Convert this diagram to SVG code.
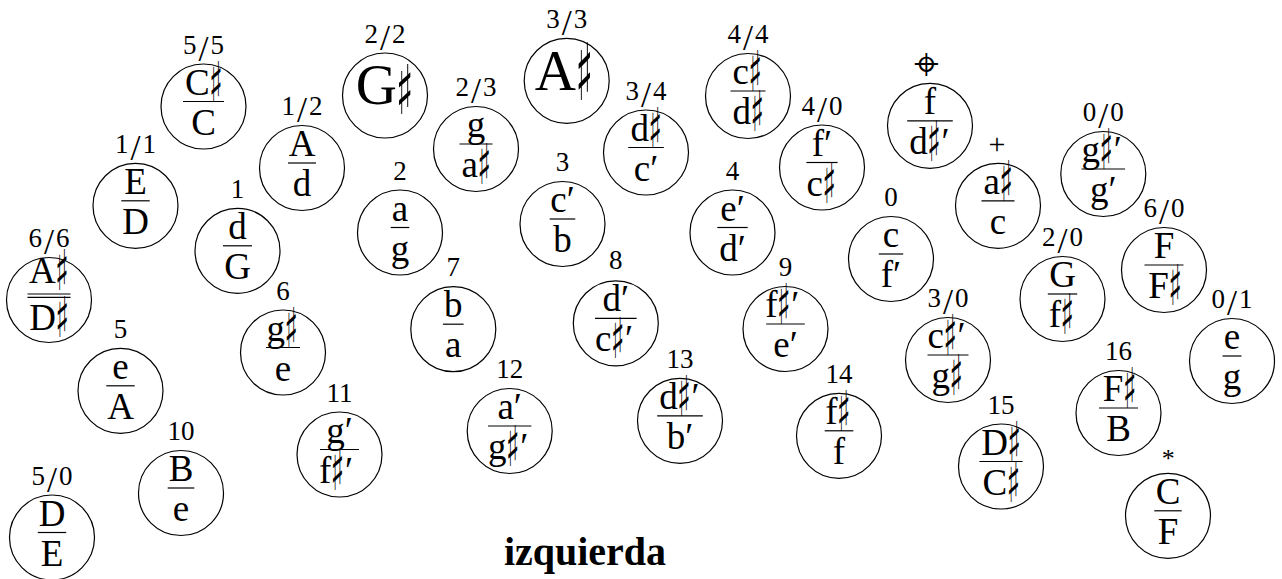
<svg xmlns="http://www.w3.org/2000/svg" width="1282" height="579" viewBox="0 0 1282 579">
<style>
.c{fill:none;stroke:#000;stroke-width:1.2}
.b{stroke:#000;stroke-width:1.2}
text{font-family:"Liberation Serif","DejaVu Serif",serif;fill:#000;text-anchor:middle}
.t{font-size:37px}
.e{text-anchor:end}
.st{text-anchor:start}
.big{font-size:57px}
.l{font-size:27px}
.ls{letter-spacing:2px}
.sl{font-size:36px}
.sh{font-family:"DejaVu Sans",sans-serif;font-size:28px;text-anchor:start}
.shb{font-family:"DejaVu Sans",sans-serif;font-size:36px;text-anchor:start}
.sym{font-family:"DejaVu Sans",sans-serif;font-size:44px}
.ttl{font-size:40px;font-weight:bold}
</style>
<rect width="1282" height="579" fill="#fff"/>
<g id="connectors"/>
<g id="n-5-5"><circle class="c" cx="203.5" cy="106.5" r="42.5"/><text class="l ls" x="204.5" y="53.5">5<tspan class="sl" dy="7">/</tspan><tspan dy="-7">5</tspan></text><text class="t e" x="209.7" y="94.5">C</text><text class="sh" transform="translate(209.2,101.5) scale(1,2)">♯</text><line class="b" x1="183" y1="101.5" x2="224" y2="101.5"/><text class="t" x="203.5" y="134.5">C</text></g>
<g id="n-2-2"><circle class="c" cx="385" cy="95.5" r="42.5"/><text class="l ls" x="386" y="42.5">2<tspan class="sl" dy="7">/</tspan><tspan dy="-7">2</tspan></text><text class="big e" x="397" y="103.5">G</text><text class="shb" transform="translate(396,113.5) scale(1,1.9)">♯</text></g>
<g id="n-1-2"><circle class="c" cx="302" cy="168" r="42.5"/><text class="l ls" x="303" y="115">1<tspan class="sl" dy="7">/</tspan><tspan dy="-7">2</tspan></text><text class="t" x="302" y="156">A</text><line class="b" x1="288" y1="163" x2="316" y2="163"/><text class="t" x="302" y="196">d</text></g>
<g id="n-1-1"><circle class="c" cx="135.5" cy="205.8" r="42.5"/><text class="l ls" x="136.5" y="152.8">1<tspan class="sl" dy="7">/</tspan><tspan dy="-7">1</tspan></text><text class="t" x="135.5" y="193.8">E</text><line class="b" x1="121.3" y1="200.8" x2="149.7" y2="200.8"/><text class="t" x="135.5" y="233.8">D</text></g>
<g id="n-1"><circle class="c" cx="237.5" cy="250.8" r="42.5"/><text class="l" x="237.5" y="197.8">1</text><text class="t" x="237.5" y="238.8">d</text><line class="b" x1="223" y1="245.8" x2="252" y2="245.8"/><text class="t" x="237.5" y="278.8">G</text></g>
<g id="n-2"><circle class="c" cx="400" cy="232.5" r="42.5"/><text class="l" x="400" y="179.5">2</text><text class="t" x="400" y="220.5">a</text><line class="b" x1="390.7" y1="227.5" x2="409.3" y2="227.5"/><text class="t" x="400" y="260.5">g</text></g>
<g id="n-6-6"><circle class="c" cx="49" cy="300" r="42.5"/><text class="l ls" x="50" y="247">6<tspan class="sl" dy="7">/</tspan><tspan dy="-7">6</tspan></text><text class="t e" x="55.7" y="283.3">A</text><text class="sh" transform="translate(55.2,290.3) scale(1,2)">♯</text><line class="b" x1="27.5" y1="294" x2="70.5" y2="294"/><line class="b" x1="27.5" y1="297.3" x2="70.5" y2="297.3"/><text class="t e" x="56" y="330">D</text><text class="sh" transform="translate(55.5,337) scale(1,2)">♯</text></g>
<g id="n-2-3"><circle class="c" cx="476" cy="149" r="42.5"/><text class="l ls" x="477" y="96">2<tspan class="sl" dy="7">/</tspan><tspan dy="-7">3</tspan></text><text class="t" x="476" y="137">g</text><line class="b" x1="459.5" y1="144" x2="492.5" y2="144"/><text class="t e" x="478" y="177">a</text><text class="sh" transform="translate(477.5,184) scale(1,2)">♯</text></g>
<g id="n-3-3"><circle class="c" cx="566.7" cy="80.8" r="42.5"/><text class="l ls" x="567.7" y="27.8">3<tspan class="sl" dy="7">/</tspan><tspan dy="-7">3</tspan></text><text class="big e" x="576" y="90">A</text><text class="shb" transform="translate(575.5,100) scale(1,2.2)">♯</text></g>
<g id="n-3-4"><circle class="c" cx="646" cy="152.5" r="42.5"/><text class="l ls" x="647" y="99.5">3<tspan class="sl" dy="7">/</tspan><tspan dy="-7">4</tspan></text><text class="t e" x="649.1" y="140.5">d</text><text class="sh" transform="translate(648.6,147.5) scale(1,2)">♯</text><line class="b" x1="628.2" y1="147.5" x2="663.8" y2="147.5"/><text class="t" x="646" y="180.5">c′</text></g>
<g id="n-4-4"><circle class="c" cx="748" cy="96" r="42.5"/><text class="l ls" x="749" y="43">4<tspan class="sl" dy="7">/</tspan><tspan dy="-7">4</tspan></text><text class="t e" x="749" y="84">c</text><text class="sh" transform="translate(748.5,91) scale(1,2)">♯</text><line class="b" x1="730.5" y1="91" x2="765.5" y2="91"/><text class="t e" x="751.1" y="124">d</text><text class="sh" transform="translate(750.6,131) scale(1,2)">♯</text></g>
<g id="n-4-0"><circle class="c" cx="822" cy="167.5" r="42.5"/><text class="l ls" x="823" y="114.5">4<tspan class="sl" dy="7">/</tspan><tspan dy="-7">0</tspan></text><text class="t" x="822" y="155.5">f′</text><line class="b" x1="806.4" y1="162.5" x2="837.6" y2="162.5"/><text class="t e" x="823" y="195.5">c</text><text class="sh" transform="translate(822.5,202.5) scale(1,2)">♯</text></g>
<g id="n-3"><circle class="c" cx="562.5" cy="224" r="42.5"/><text class="l" x="562.5" y="171">3</text><text class="t" x="562.5" y="212">c′</text><line class="b" x1="549.7" y1="219" x2="575.3" y2="219"/><text class="t" x="562.5" y="252">b</text></g>
<g id="n-4"><circle class="c" cx="732.5" cy="232.5" r="42.5"/><text class="l" x="732.5" y="179.5">4</text><text class="t" x="732.5" y="220.5">e′</text><line class="b" x1="717.3" y1="227.5" x2="747.7" y2="227.5"/><text class="t" x="732.5" y="260.5">d′</text></g>
<g id="n-pos"><circle class="c" cx="930" cy="125.8" r="42.5"/><text class="sym" x="926" y="79">⌖</text><text class="t" x="930" y="113.8">f</text><line class="b" x1="907.2" y1="120.8" x2="952.8" y2="120.8"/><text class="t e" x="927.8" y="153.8">d</text><text class="sh" transform="translate(927.3,160.8) scale(1,2)">♯</text><text class="t st" x="941.5" y="153.8">′</text></g>
<g id="n-plus"><circle class="c" cx="998" cy="205.8" r="42.5"/><text class="l" x="997" y="154" style="font-size:30px">+</text><text class="t e" x="1000" y="193.8">a</text><text class="sh" transform="translate(999.5,200.8) scale(1,2)">♯</text><line class="b" x1="981.5" y1="200.8" x2="1014.5" y2="200.8"/><text class="t" x="998" y="233.8">c</text></g>
<g id="n-0-0"><circle class="c" cx="1103.3" cy="174" r="42.5"/><text class="l ls" x="1104.3" y="121">0<tspan class="sl" dy="7">/</tspan><tspan dy="-7">0</tspan></text><text class="t e" x="1100" y="162">g</text><text class="sh" transform="translate(1099.5,169) scale(1,2)">♯</text><text class="t st" x="1113.7" y="162">′</text><line class="b" x1="1081.5" y1="169" x2="1125.1" y2="169"/><text class="t" x="1103.3" y="202">g′</text></g>
<g id="n-0"><circle class="c" cx="891" cy="259" r="42.5"/><text class="l" x="891" y="206">0</text><text class="t" x="891" y="247">c</text><line class="b" x1="878.8" y1="254" x2="903.2" y2="254"/><text class="t" x="891" y="287">f′</text></g>
<g id="n-2-0"><circle class="c" cx="1062.5" cy="299" r="42.5"/><text class="l ls" x="1063.5" y="246">2<tspan class="sl" dy="7">/</tspan><tspan dy="-7">0</tspan></text><text class="t" x="1062.5" y="287">G</text><line class="b" x1="1047.8" y1="294" x2="1077.2" y2="294"/><text class="t e" x="1061" y="327">f</text><text class="sh" transform="translate(1060.5,334) scale(1,2)">♯</text></g>
<g id="n-6-0"><circle class="c" cx="1164" cy="270" r="42.5"/><text class="l ls" x="1165" y="217">6<tspan class="sl" dy="7">/</tspan><tspan dy="-7">0</tspan></text><text class="t" x="1164" y="258">F</text><line class="b" x1="1144.5" y1="265" x2="1183.5" y2="265"/><text class="t e" x="1168.9" y="298">F</text><text class="sh" transform="translate(1168.4,305) scale(1,2)">♯</text></g>
<g id="n-6"><circle class="c" cx="283" cy="352.5" r="42.5"/><text class="l" x="283" y="299.5">6</text><text class="t e" x="285" y="340.5">g</text><text class="sh" transform="translate(284.5,347.5) scale(1,2)">♯</text><line class="b" x1="266" y1="347.5" x2="300" y2="347.5"/><text class="t" x="283" y="380.5">e</text></g>
<g id="n-5"><circle class="c" cx="120.5" cy="390.8" r="42.5"/><text class="l" x="120.5" y="337.8">5</text><text class="t" x="120.5" y="378.8">e</text><line class="b" x1="106.3" y1="385.8" x2="134.7" y2="385.8"/><text class="t" x="120.5" y="418.8">A</text></g>
<g id="n-7"><circle class="c" cx="453.3" cy="329.2" r="42.5"/><text class="l" x="453.3" y="276.2">7</text><text class="t" x="453.3" y="317.2">b</text><line class="b" x1="443" y1="324.2" x2="463.6" y2="324.2"/><text class="t" x="453.3" y="357.2">a</text></g>
<g id="n-8"><circle class="c" cx="615.8" cy="323.3" r="42.5"/><text class="l" x="615.8" y="268.5">8</text><text class="t" x="615.8" y="311.3">d′</text><line class="b" x1="595" y1="318.3" x2="636.6" y2="318.3"/><text class="t e" x="611.4" y="351.3">c</text><text class="sh" transform="translate(610.9,358.3) scale(1,2)">♯</text><text class="t st" x="625.1" y="351.3">′</text></g>
<g id="n-9"><circle class="c" cx="785.5" cy="329" r="42.5"/><text class="l" x="785.5" y="276">9</text><text class="t e" x="777.5" y="317">f</text><text class="sh" transform="translate(777,324) scale(1,2)">♯</text><text class="t st" x="791.2" y="317">′</text><line class="b" x1="766.2" y1="324" x2="804.8" y2="324"/><text class="t" x="785.5" y="357">e′</text></g>
<g id="n-11"><circle class="c" cx="339.5" cy="454.5" r="42.5"/><text class="l" x="339.5" y="401.5">11</text><text class="t" x="339.5" y="442.5">g′</text><line class="b" x1="320" y1="449.5" x2="359" y2="449.5"/><text class="t e" x="331.3" y="482.5">f</text><text class="sh" transform="translate(330.8,489.5) scale(1,2)">♯</text><text class="t st" x="345" y="482.5">′</text></g>
<g id="n-10"><circle class="c" cx="181" cy="493" r="42.5"/><text class="l" x="181" y="440">10</text><text class="t" x="181" y="481">B</text><line class="b" x1="167.7" y1="488" x2="194.3" y2="488"/><text class="t" x="181" y="521">e</text></g>
<g id="n-5-0"><circle class="c" cx="52" cy="537.5" r="42.5"/><text class="l ls" x="53" y="484.5">5<tspan class="sl" dy="7">/</tspan><tspan dy="-7">0</tspan></text><text class="t" x="52" y="525.5">D</text><line class="b" x1="37.8" y1="532.5" x2="66.2" y2="532.5"/><text class="t" x="52" y="565.5">E</text></g>
<g id="n-12"><circle class="c" cx="509.7" cy="431" r="42.5"/><text class="l" x="509.7" y="378">12</text><text class="t" x="509.7" y="419">a′</text><line class="b" x1="488" y1="426" x2="531.4" y2="426"/><text class="t e" x="506.6" y="459">g</text><text class="sh" transform="translate(506.1,466) scale(1,2)">♯</text><text class="t st" x="520.3" y="459">′</text></g>
<g id="n-13"><circle class="c" cx="680" cy="420.8" r="42.5"/><text class="l" x="680" y="367.8">13</text><text class="t e" x="677.8" y="408.8">d</text><text class="sh" transform="translate(677.3,415.8) scale(1,2)">♯</text><text class="t st" x="691.5" y="408.8">′</text><line class="b" x1="657.2" y1="415.8" x2="702.8" y2="415.8"/><text class="t" x="680" y="448.8">b′</text></g>
<g id="n-14"><circle class="c" cx="839" cy="435.8" r="42.5"/><text class="l" x="839" y="382.8">14</text><text class="t e" x="837.5" y="423.8">f</text><text class="sh" transform="translate(837,430.8) scale(1,2)">♯</text><line class="b" x1="824.7" y1="430.8" x2="853.3" y2="430.8"/><text class="t" x="839" y="463.8">f</text></g>
<g id="n-3-0"><circle class="c" cx="948" cy="360" r="42.5"/><text class="l ls" x="949" y="307">3<tspan class="sl" dy="7">/</tspan><tspan dy="-7">0</tspan></text><text class="t e" x="943.9" y="348">c</text><text class="sh" transform="translate(943.4,355) scale(1,2)">♯</text><text class="t st" x="957.6" y="348">′</text><line class="b" x1="927.5" y1="355" x2="968.5" y2="355"/><text class="t e" x="950" y="388">g</text><text class="sh" transform="translate(949.5,395) scale(1,2)">♯</text></g>
<g id="n-15"><circle class="c" cx="1001" cy="466.5" r="42.5"/><text class="l" x="1001" y="413.5">15</text><text class="t e" x="1008" y="454.5">D</text><text class="sh" transform="translate(1007.5,461.5) scale(1,2)">♯</text><line class="b" x1="979.4" y1="461.5" x2="1022.6" y2="461.5"/><text class="t e" x="1007.2" y="494.5">C</text><text class="sh" transform="translate(1006.7,501.5) scale(1,2)">♯</text></g>
<g id="n-16"><circle class="c" cx="1118.5" cy="413" r="42.5"/><text class="l" x="1118.5" y="360">16</text><text class="t e" x="1123.4" y="401">F</text><text class="sh" transform="translate(1122.9,408) scale(1,2)">♯</text><line class="b" x1="1099" y1="408" x2="1138" y2="408"/><text class="t" x="1118.5" y="441">B</text></g>
<g id="n-0-1"><circle class="c" cx="1232" cy="361" r="42.5"/><text class="l ls" x="1233" y="308">0<tspan class="sl" dy="7">/</tspan><tspan dy="-7">1</tspan></text><text class="t" x="1232" y="349">e</text><line class="b" x1="1222.5" y1="356" x2="1241.5" y2="356"/><text class="t" x="1232" y="389">g</text></g>
<g id="n-ast"><circle class="c" cx="1168" cy="515.8" r="42.5"/><text class="l" x="1168.3" y="467" style="font-size:26px">*</text><text class="t" x="1168" y="503.8">C</text><line class="b" x1="1154.3" y1="510.8" x2="1181.7" y2="510.8"/><text class="t" x="1168" y="543.8">F</text></g>
<text class="ttl" x="585" y="565">izquierda</text>
</svg>
